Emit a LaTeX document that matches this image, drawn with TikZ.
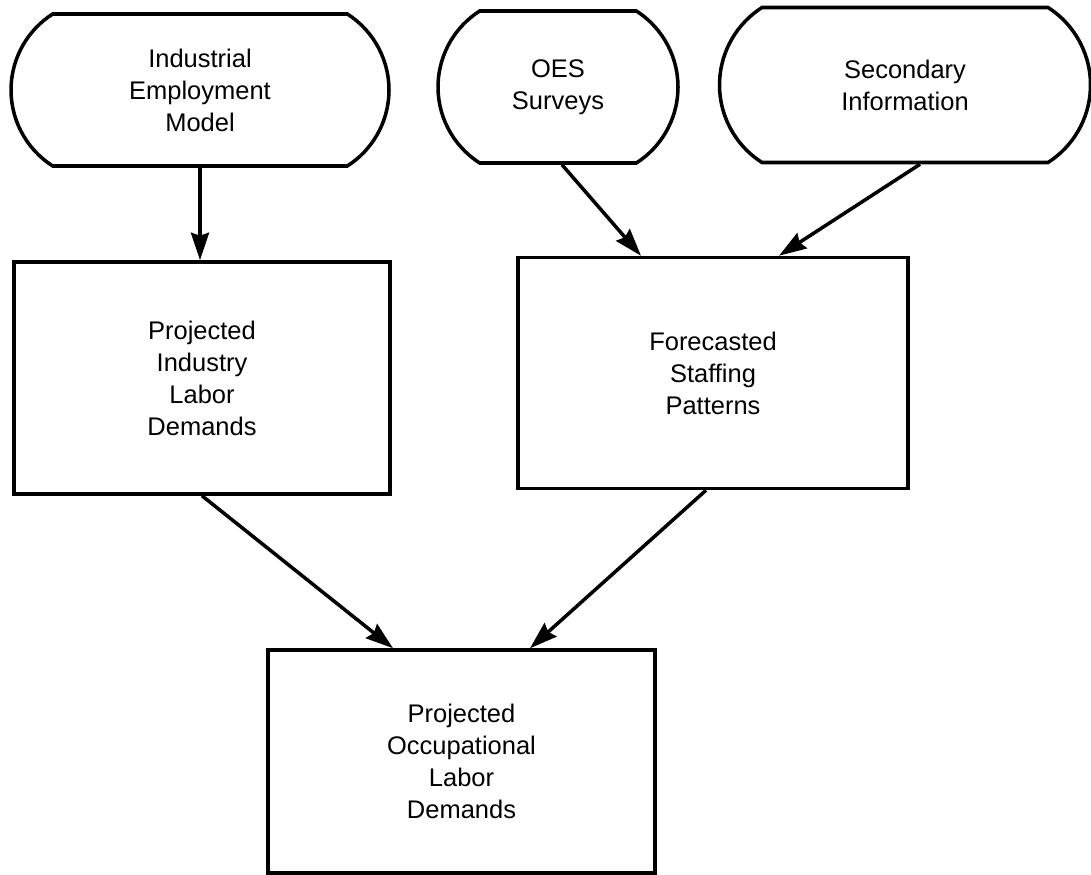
\documentclass[tikz,border=0pt]{standalone}
\usepackage{fontspec}
\setmainfont{Liberation Sans}
\usetikzlibrary{arrows.meta, shapes.misc}
\tikzstyle{source}=[draw, rounded rectangle, rounded rectangle arc length=115, line width=2pt, align=center, font=\fontsize{14.5}{18.2}\selectfont, minimum height=3.04cm, inner sep=0pt]
\tikzstyle{stage}=[draw, rectangle, line width=2pt, align=center, font=\fontsize{14.5}{18.2}\selectfont, inner sep=0pt]
\tikzstyle{flow}=[-{Stealth[length=5.5mm, width=3.6mm, inset=0.6mm]}, line width=2pt]

\begin{document}
\begin{tikzpicture}
            \useasboundingbox (0, 0) rectangle (21.82, -17.5);
            \node[source, minimum width=7.56cm] (ind) at (4.0, -1.80) {Industrial\\Employment\\Model};
            \node[source, minimum width=4.8cm] (oes) at (11.16, -1.74) {OES\\Surveys};
            \node[source, minimum width=7.42cm, minimum height=3.1cm] (sec) at (18.1, -1.70) {Secondary\\Information};
            \node[stage, minimum width=7.52cm, minimum height=4.64cm] (pild) at (4.04, -7.56) {Projected\\Industry\\Labor\\Demands};
            \node[stage, minimum width=7.8cm, minimum height=4.62cm] (fsp) at (14.26, -7.46) {Forecasted\\Staffing\\Patterns};
            \node[stage, minimum width=7.74cm, minimum height=4.46cm] (pold) at (9.23, -15.23) {Projected\\Occupational\\Labor\\Demands};
            \draw[flow] (ind.south) -- (ind.south |- pild.north);
            \draw[flow] ([xshift=0.08cm]oes.south) -- ([xshift=-1.44cm]fsp.north);
            \draw[flow] ([xshift=0.3cm]sec.south) -- ([xshift=1.32cm]fsp.north);
            \draw[flow] (pild.south) -- ([xshift=-1.37cm]pold.north);
            \draw[flow] ([xshift=-0.14cm]fsp.south) -- ([xshift=1.37cm]pold.north);
        \end{tikzpicture}
\end{document}
